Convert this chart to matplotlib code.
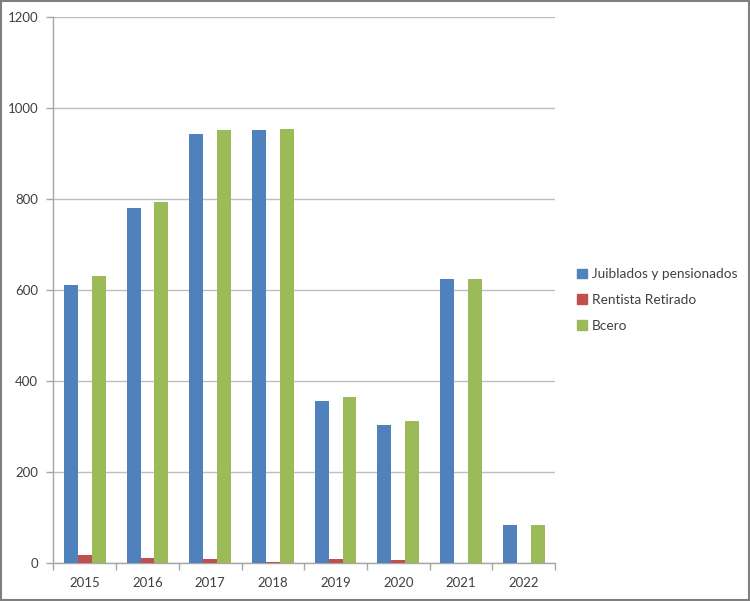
import matplotlib
matplotlib.use("Agg")
import matplotlib.pyplot as plt
import matplotlib.patches as mpatches
import numpy as np

# ── Datos ─────────────────────────────────────────────────────────────────────
years      = ["2015", "2016", "2017", "2018", "2019", "2020", "2021", "2022"]
jubilados  = [612, 780, 944, 952, 357, 304, 624, 85]
rentista   = [19, 13, 9, 4, 10, 7, 0, 0]
bcero      = [631, 793, 952, 955, 366, 312, 625, 85]
series_lbl = ["Juiblados y pensionados", "Rentista Retirado", "Bcero"]

# ── Paleta ────────────────────────────────────────────────────────────────────
C_BLUE  = "#4F81BD"
C_RED   = "#C0504D"
C_GREEN = "#9BBB59"
C_GRID  = "#BFBFBF"
C_AXIS  = "#A6A6A6"
C_TEXT  = "#404040"

plt.rcParams["font.family"] = ["Lato", "DejaVu Sans"]

fig = plt.figure(figsize=(7.5, 6.01), dpi=100, facecolor="white")
ax = fig.add_axes([0.0713, 0.0624, 0.6687, 0.9093])

x = np.arange(len(years))
w = 0.222
ax.bar(x - w, jubilados, w, color=C_BLUE, label=series_lbl[0], zorder=3)
ax.bar(x, rentista, w, color=C_RED, label=series_lbl[1], zorder=3)
ax.bar(x + w, bcero, w, color=C_GREEN, label=series_lbl[2], zorder=3)

ax.set_xlim(-0.5, len(years) - 0.5)
ax.set_ylim(0, 1200)
ax.set_yticks(np.arange(0, 1201, 200))
ax.yaxis.grid(True, color=C_GRID, lw=1.0, zorder=0)
ax.set_axisbelow(True)

ax.set_xticks(x)
ax.set_xticklabels(years)
ax.set_xticks(np.arange(-0.5, len(years)), minor=True)
ax.tick_params(axis="x", which="major", length=0, pad=10,
               labelsize=9.5, labelcolor=C_TEXT)
ax.tick_params(axis="x", which="minor", length=5, color=C_AXIS, width=1)
ax.tick_params(axis="y", length=5, color=C_AXIS, width=1, pad=6,
               labelsize=9.5, labelcolor=C_TEXT)

for s in ["top", "right"]:
    ax.spines[s].set_visible(False)
for s in ["left", "bottom"]:
    ax.spines[s].set_color(C_AXIS)
    ax.spines[s].set_linewidth(1)

handles = [mpatches.Patch(color=c, label=l)
           for c, l in zip([C_BLUE, C_RED, C_GREEN], series_lbl)]
fig.legend(handles=handles, loc="center left",
           bbox_to_anchor=(0.753, 0.501), frameon=False,
           fontsize=9.8, handlelength=0.7, handleheight=0.7,
           handletextpad=0.4, labelspacing=1.0, labelcolor=C_TEXT)

# Marco exterior
fig.add_artist(mpatches.Rectangle((0.001, 0.001), 0.997, 0.997,
                                  transform=fig.transFigure, fill=False,
                                  ec="#7F7F7F", lw=1.5))

plt.savefig("out.png", dpi=100, facecolor="white")
plt.close()
